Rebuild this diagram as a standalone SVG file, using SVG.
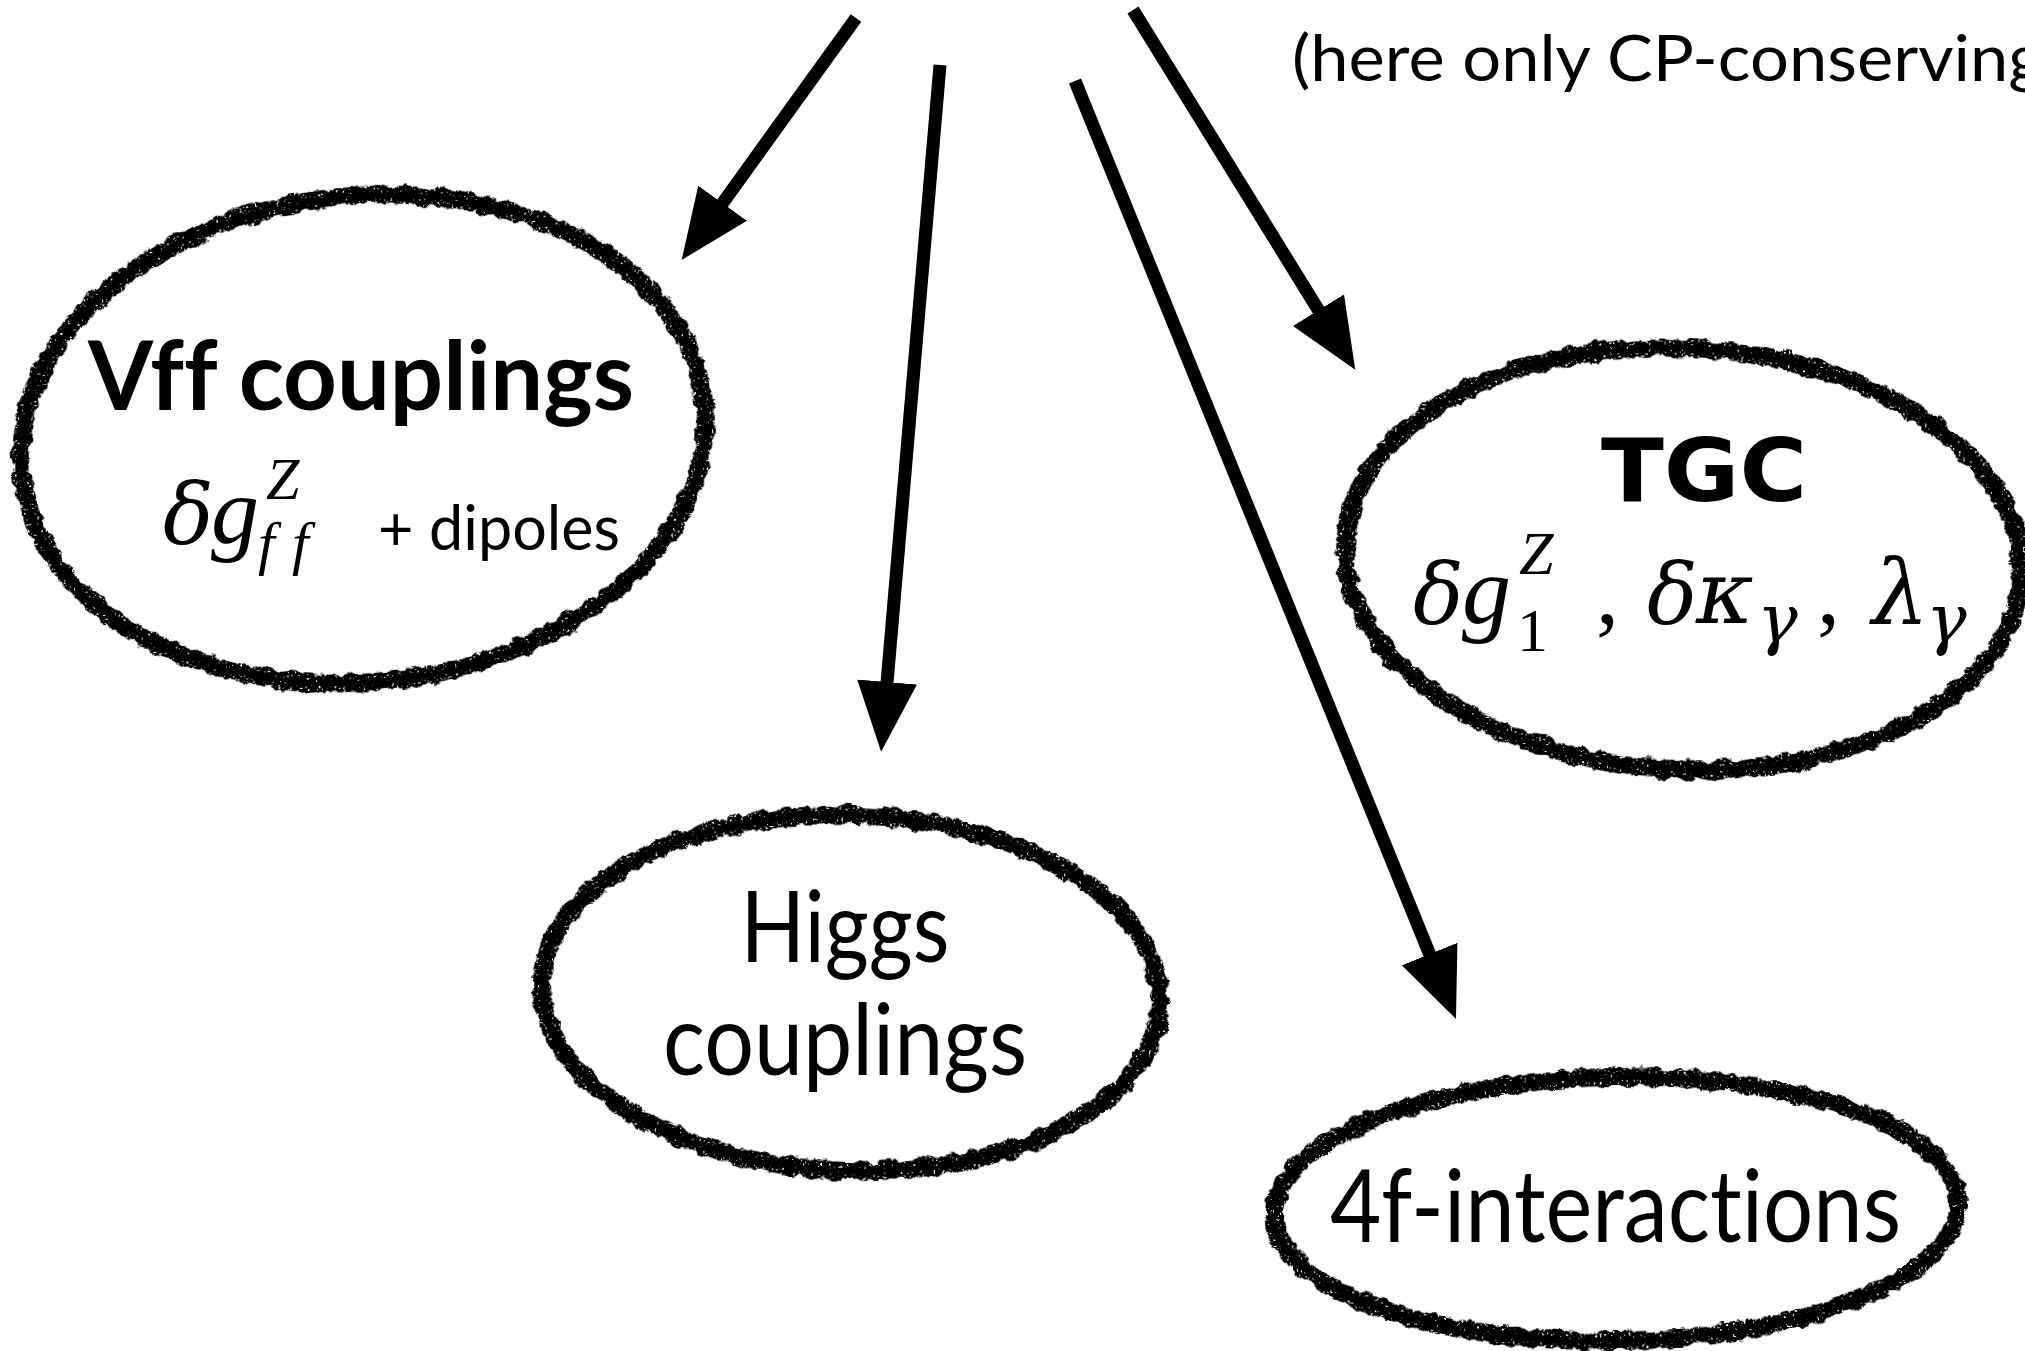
<svg xmlns="http://www.w3.org/2000/svg" width="2025" height="1351" viewBox="0 0 2025 1351">
  <style>
    .sans { font-family: Lato, "Open Sans", "Liberation Sans", sans-serif; fill: #000; font-variant-ligatures: none; }
    .bold { font-weight: 700; }
    .math { font-family: "Liberation Serif", "DejaVu Serif", serif; font-style: italic; fill: #000; }
    .gr { font-family: "DejaVu Serif", "Liberation Serif", serif; font-style: italic; }
    .up { font-style: normal; }
    .ring { fill: none; stroke: #000; stroke-width: 18; filter: url(#rough); }
    .ring2 { fill: none; stroke: #000; stroke-width: 7; filter: url(#rough2); }
    .conn { stroke: #000; stroke-width: 13; fill: none; marker-end: url(#head); }
  </style>
  <defs>
    <!-- chalky, uneven outline for the bubbles: wobble plus a few speckled gaps -->
    <filter id="rough" x="-10%" y="-10%" width="120%" height="120%">
      <feTurbulence type="fractalNoise" baseFrequency="0.08" numOctaves="3" seed="3" result="n"/>
      <feDisplacementMap in="SourceGraphic" in2="n" scale="10" xChannelSelector="R" yChannelSelector="G" result="d"/>
      <feTurbulence type="fractalNoise" baseFrequency="0.45" numOctaves="1" seed="7" result="s"/>
      <feColorMatrix in="s" type="matrix" values="0 0 0 0 0  0 0 0 0 0  0 0 0 0 0  -16 0 0 0 11" result="m"/>
      <feComposite in="d" in2="m" operator="in"/>
    </filter>
    <filter id="rough2" x="-10%" y="-10%" width="120%" height="120%">
      <feTurbulence type="fractalNoise" baseFrequency="0.2" numOctaves="2" seed="11" result="n"/>
      <feDisplacementMap in="SourceGraphic" in2="n" scale="14" xChannelSelector="R" yChannelSelector="G"/>
    </filter>
    <marker id="head" markerUnits="userSpaceOnUse" markerWidth="80" markerHeight="70" refX="1" refY="30" orient="auto" viewBox="0 0 80 70">
      <path d="M0,0 L70,30 L0,60 Z" fill="#000"/>
    </marker>
  </defs>

  <rect width="2025" height="1351" fill="#fff"/>

  <text class="sans" x="1292" y="81" font-size="63" textLength="752" lengthAdjust="spacingAndGlyphs">(here only CP-conserving</text>

  <g id="connectors">
    <line class="conn" x1="856" y1="18" x2="722" y2="204"/>
    <line class="conn" x1="940" y1="65" x2="887" y2="683"/>
    <line class="conn" x1="1075" y1="81" x2="1430" y2="955"/>
    <line class="conn" x1="1133" y1="10" x2="1319" y2="311"/>
  </g>

  <g id="vff">
    <g transform="rotate(-6 363 439)">
      <ellipse class="ring" cx="363" cy="439" rx="343" ry="243"/>
      <ellipse class="ring2" cx="363" cy="439" rx="343" ry="243"/>
    </g>
    <text class="sans bold" x="88" y="410" font-size="96" textLength="546" lengthAdjust="spacingAndGlyphs">Vff couplings</text>
    <text class="math" font-size="92"><tspan class="gr" x="163" y="543" font-size="84">δ</tspan><tspan x="211" y="543" font-size="96">g</tspan><tspan x="266" y="499" font-size="60">Z</tspan><tspan x="258" y="563" font-size="60">f</tspan><tspan x="292" y="563" font-size="60">f</tspan></text>
    <text class="sans" x="378" y="550" font-size="62" textLength="242" lengthAdjust="spacingAndGlyphs">+ dipoles</text>
  </g>

  <g id="tgc">
    <g transform="rotate(3 1683 559)">
      <ellipse class="ring" cx="1683" cy="559" rx="338" ry="211"/>
      <ellipse class="ring2" cx="1683" cy="559" rx="338" ry="211"/>
    </g>
    <text class="sans bold" x="1704" y="501" font-size="88" text-anchor="middle" style="font-family:'DejaVu Sans','Open Sans',sans-serif" textLength="206" lengthAdjust="spacingAndGlyphs">TGC</text>
    <text class="math" font-size="92"><tspan class="gr" x="1413" y="623" font-size="84">δ</tspan><tspan x="1462" y="623" font-size="98">g</tspan><tspan x="1519" y="574" font-size="62">Z</tspan><tspan class="up" x="1517" y="651" font-size="62">1</tspan><tspan class="up" x="1596" y="623">,</tspan><tspan class="gr" x="1647" y="623" font-size="84">δ</tspan><tspan class="gr" x="1696" y="623" font-size="88">κ</tspan><tspan class="gr" x="1757" y="642" font-size="68">γ</tspan><tspan class="up" x="1817" y="623">,</tspan><tspan class="gr" x="1872" y="623" font-size="90">λ</tspan><tspan class="gr" x="1926" y="642" font-size="68">γ</tspan></text>
  </g>

  <g id="higgs">
    <g transform="rotate(2 851 993)">
      <ellipse class="ring" cx="851" cy="993" rx="309" ry="178"/>
      <ellipse class="ring2" cx="851" cy="993" rx="309" ry="178"/>
    </g>
    <text class="sans" x="845" y="962" font-size="98" text-anchor="middle" textLength="209" lengthAdjust="spacingAndGlyphs">Higgs</text>
    <text class="sans" x="845" y="1075" font-size="98" text-anchor="middle" textLength="364" lengthAdjust="spacingAndGlyphs">couplings</text>
  </g>

  <g id="fourf">
    <g transform="rotate(-1 1616 1209)">
      <ellipse class="ring" cx="1616" cy="1209" rx="342" ry="132"/>
      <ellipse class="ring2" cx="1616" cy="1209" rx="342" ry="132"/>
    </g>
    <text class="sans" x="1330" y="1242" font-size="100" textLength="571" lengthAdjust="spacingAndGlyphs">4f-interactions</text>
  </g>
</svg>
